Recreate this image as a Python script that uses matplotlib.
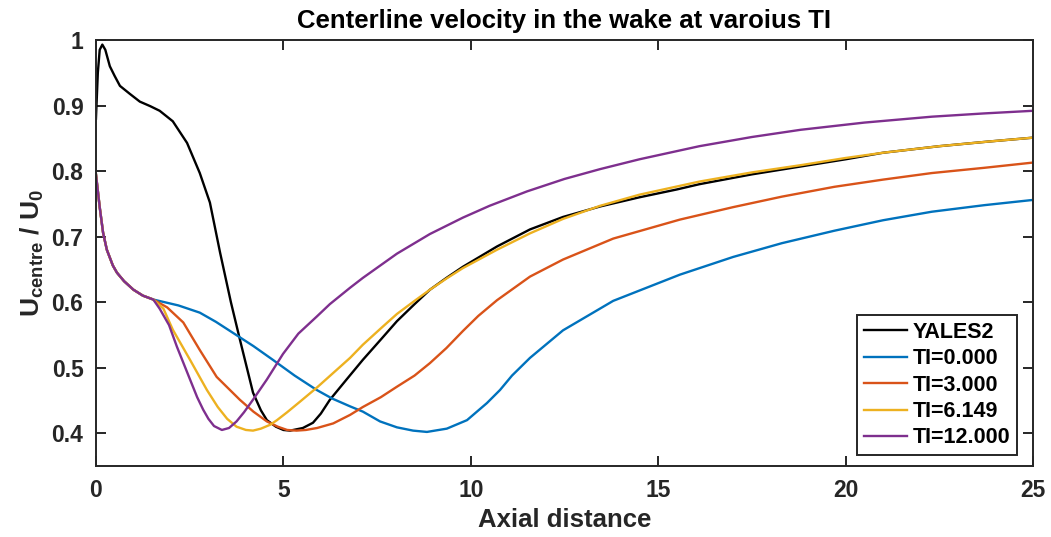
"""Centerline velocity deficit recovery in the wake, LES reference vs. the
analytical wake model at several turbulence intensities."""

import matplotlib

matplotlib.use("Agg")
import matplotlib.pyplot as plt

# YALES2 LES centerline profile
x_les = [0.0, 0.05, 0.1, 0.17, 0.25, 0.37, 0.5, 0.64, 0.9, 1.17, 1.45, 1.7, 2.05,
         2.43, 2.77, 3.04, 3.31, 3.6, 3.84, 4.19, 4.4, 4.56, 4.8, 5.0, 5.18, 5.52,
         5.79, 6.0, 6.24, 6.7, 7.12, 7.6, 8.03, 8.5, 8.91, 9.35, 9.79, 10.7, 11.58,
         12.46, 13.45, 14.5, 15.5, 16.1, 17.5, 18.8, 20.0, 21.0, 22.5, 23.8, 25.0]
u_les = [0.88, 0.95, 0.985, 0.993, 0.985, 0.96, 0.945, 0.93, 0.918, 0.906, 0.899,
         0.892, 0.876, 0.843, 0.797, 0.752, 0.676, 0.6, 0.543, 0.462, 0.435, 0.42,
         0.41, 0.405, 0.404, 0.408, 0.416, 0.43, 0.451, 0.483, 0.512, 0.543, 0.571,
         0.597, 0.619, 0.637, 0.654, 0.685, 0.711, 0.73, 0.746, 0.76, 0.772, 0.78,
         0.795, 0.807, 0.818, 0.828, 0.838, 0.845, 0.851]

# Wake model, shared near-field part (all TI curves coincide up to x ~ 1.3)
x_near = [0.0, 0.1, 0.19, 0.29, 0.45, 0.56, 0.75, 1.0, 1.25, 1.53]
u_near = [0.795, 0.745, 0.706, 0.68, 0.656, 0.645, 0.632, 0.619, 0.61, 0.604]

x_ti0 = x_near + [2.2, 2.77, 3.2, 3.66, 4.2, 4.72, 5.3, 5.89, 6.3, 6.78, 7.12, 7.58,
                  8.03, 8.46, 8.83, 9.36, 9.9, 10.43, 10.78, 11.1, 11.58, 12.46,
                  13.8, 15.58, 17.0, 18.3, 19.7, 21.0, 22.3, 23.7, 25.0]
u_ti0 = u_near + [0.595, 0.584, 0.57, 0.553, 0.533, 0.512, 0.488, 0.466, 0.453,
                  0.441, 0.433, 0.418, 0.409, 0.404, 0.402, 0.407, 0.42, 0.446,
                  0.466, 0.488, 0.515, 0.557, 0.602, 0.642, 0.669, 0.69, 0.709,
                  0.725, 0.738, 0.748, 0.756]

x_ti3 = x_near + [1.9, 2.33, 2.77, 3.22, 3.84, 4.2, 4.56, 4.85, 5.1, 5.35, 5.6,
                  5.9, 6.33, 6.78, 7.12, 7.6, 8.03, 8.5, 8.91, 9.35, 9.79, 10.2,
                  10.7, 11.58, 12.46, 13.8, 15.58, 17.0, 18.3, 19.7, 21.0, 22.3,
                  23.7, 25.0]
u_ti3 = u_near + [0.592, 0.569, 0.527, 0.486, 0.451, 0.433, 0.418, 0.41, 0.405,
                  0.404, 0.405, 0.408, 0.415, 0.428, 0.44, 0.455, 0.471, 0.488,
                  0.507, 0.53, 0.556, 0.579, 0.603, 0.639, 0.665, 0.697, 0.726,
                  0.745, 0.761, 0.776, 0.787, 0.797, 0.805, 0.813]

x_ti6 = x_near + [1.8, 2.05, 2.51, 2.96, 3.25, 3.5, 3.75, 4.0, 4.19, 4.4, 4.65,
                  4.83, 5.1, 5.44, 5.9, 6.33, 6.78, 7.12, 7.6, 8.03, 8.5, 8.91,
                  9.35, 9.79, 10.7, 11.58, 12.46, 13.45, 14.5, 16.1, 17.5, 18.8,
                  20.0, 21.0, 22.5, 23.8, 25.0]
u_ti6 = u_near + [0.59, 0.558, 0.512, 0.466, 0.44, 0.422, 0.41, 0.405, 0.404,
                  0.407, 0.413, 0.42, 0.432, 0.448, 0.47, 0.492, 0.515, 0.535,
                  0.56, 0.582, 0.602, 0.619, 0.636, 0.652, 0.68, 0.705, 0.727,
                  0.747, 0.764, 0.784, 0.798, 0.809, 0.82, 0.828, 0.838, 0.845,
                  0.851]

x_ti12 = x_near + [1.7, 1.95, 2.16, 2.51, 2.7, 2.86, 3.0, 3.15, 3.36, 3.55, 3.75,
                   3.95, 4.2, 4.56, 4.99, 5.4, 5.89, 6.24, 6.78, 7.12, 8.03, 8.91,
                   9.79, 10.5, 11.5, 12.5, 13.45, 14.5, 16.1, 17.5, 18.8, 20.5,
                   22.3, 23.7, 25.0]
u_ti12 = u_near + [0.59, 0.565, 0.532, 0.482, 0.455, 0.436, 0.422, 0.411, 0.405,
                   0.408, 0.418, 0.432, 0.452, 0.482, 0.521, 0.552, 0.578, 0.597,
                   0.622, 0.637, 0.674, 0.704, 0.729, 0.747, 0.769, 0.788, 0.803,
                   0.818, 0.838, 0.852, 0.863, 0.874, 0.883, 0.888, 0.892]

series = [
    (x_les, u_les, "YALES2", "black"),
    (x_ti0, u_ti0, "TI=0.000", "#0072BD"),
    (x_ti3, u_ti3, "TI=3.000", "#D95319"),
    (x_ti6, u_ti6, "TI=6.149", "#EDB120"),
    (x_ti12, u_ti12, "TI=12.000", "#7E2F8E"),
]

x_ticks = [0, 5, 10, 15, 20, 25]
y_ticks = [0.4, 0.5, 0.6, 0.7, 0.8, 0.9, 1.0]
y_tick_labels = ["0.4", "0.5", "0.6", "0.7", "0.8", "0.9", "1"]

plt.rcParams["font.family"] = ["Liberation Sans", "DejaVu Sans"]
plt.rcParams["font.weight"] = "bold"
plt.rcParams["mathtext.fontset"] = "custom"
plt.rcParams["mathtext.rm"] = "Liberation Sans:bold"
plt.rcParams["mathtext.it"] = "Liberation Sans:bold"
plt.rcParams["mathtext.bf"] = "Liberation Sans:bold"

axis_color = "#262626"

fig = plt.figure(figsize=(10.51, 5.37), dpi=100)
ax = fig.add_axes([0.0913, 0.1322, 0.8916, 0.7933])

for xs, ys, label, color in series:
    ax.plot(xs, ys, color=color, lw=1.7, label=label)

ax.set_xlim(0, 25)
ax.set_ylim(0.35, 1.0)
ax.set_xticks(x_ticks)
ax.set_yticks(y_ticks)
ax.set_yticklabels(y_tick_labels)

ax.tick_params(direction="in", length=7, width=1.4, colors=axis_color,
               labelsize=16.5, top=True, right=True, pad=9)
for lbl in ax.get_xticklabels() + ax.get_yticklabels():
    lbl.set_fontweight("bold")
for spine in ax.spines.values():
    spine.set_color(axis_color)
    spine.set_linewidth(1.4)

ax.set_title("Centerline velocity in the wake at varoius TI", fontsize=18.5,
             fontweight="bold", pad=9)
ax.set_xlabel("Axial distance", fontsize=18.5, fontweight="bold",
              color=axis_color, labelpad=5)
ax.set_ylabel(r"U$_{\rm centre}$ / U$_{\rm 0}$", fontsize=19, fontweight="bold",
              color=axis_color, labelpad=4)

leg = ax.legend(loc="lower right", fontsize=15.5, frameon=True, fancybox=False,
                framealpha=1, edgecolor=axis_color, handlelength=2.0,
                handletextpad=0.3, labelspacing=0.25, borderpad=0.3,
                borderaxespad=0, bbox_to_anchor=(0.983, 0.026))
leg.get_frame().set_linewidth(1.4)
for t in leg.get_texts():
    t.set_fontweight("bold")

fig.savefig("out.png", dpi=100)
plt.close(fig)
